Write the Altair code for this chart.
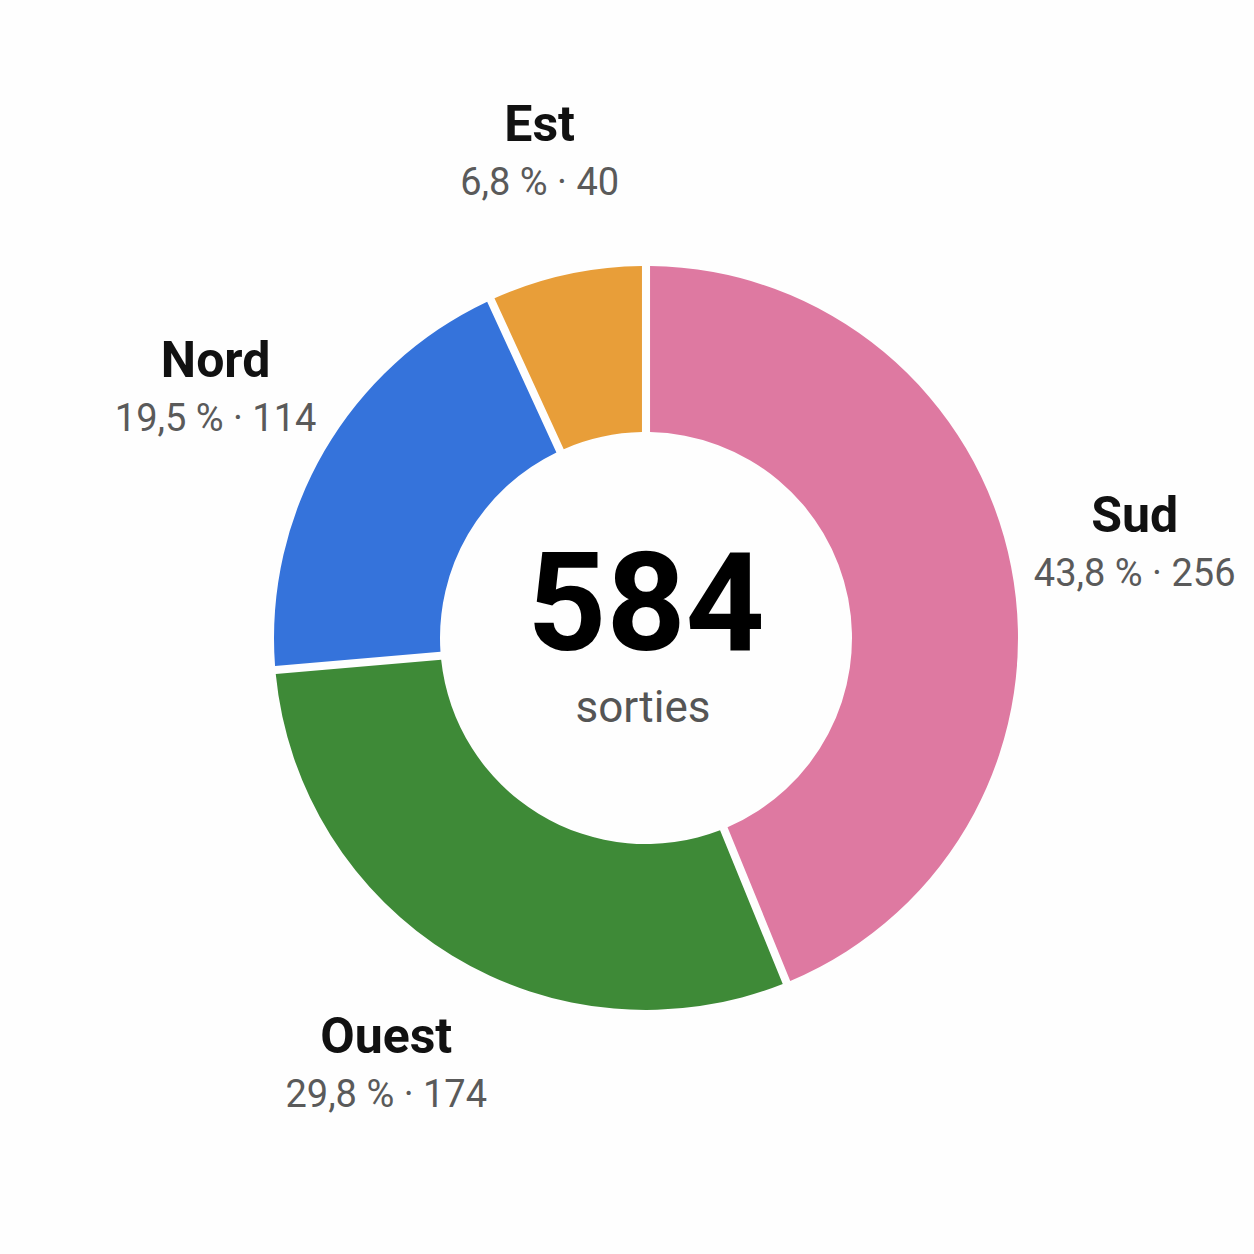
import altair as alt
import pandas as pd

regions = ["Sud", "Ouest", "Nord", "Est"]
counts = [256, 174, 114, 40]
colors = ["#DE79A1", "#3E8A37", "#3573DB", "#E89E39"]
center_label = "sorties"

total = sum(counts)
df = pd.DataFrame({
    "region": regions,
    "count": counts,
    "order": list(range(len(regions))),
    "detail": [f"{c / total * 100:.1f}".replace(".", ",") + f" % · {c}" for c in counts],
})
center_df = pd.DataFrame({"big": [str(total)], "small": [center_label]})

W, H = 1216, 1232
FONT = "Roboto"

base = alt.Chart(df).encode(
    theta=alt.Theta("count:Q", stack=True),
    order=alt.Order("order:Q", sort="ascending"),
)

arcs = base.mark_arc(innerRadius=206, outerRadius=372, padAngle=0.019).encode(
    color=alt.Color("region:N", scale=alt.Scale(domain=regions, range=colors), legend=None)
)

names = base.mark_text(radius=498, dy=-10, font=FONT, fontSize=50, fontWeight="bold",
                       color="#111111", baseline="alphabetic", align="center").encode(
    text="region:N"
)
details = base.mark_text(radius=498, dy=44, font=FONT, fontSize=38,
                         color="#5a5a5a", baseline="alphabetic", align="center").encode(
    text="detail:N"
)

big = alt.Chart(center_df).mark_text(font=FONT, fontSize=138, fontWeight="bold", color="#000000",
                                     baseline="alphabetic", align="center").encode(
    x=alt.value(W / 2), y=alt.value(H / 2 + 12), text="big:N"
)
small = alt.Chart(center_df).mark_text(font=FONT, fontSize=44, color="#555555",
                                       baseline="alphabetic", align="center").encode(
    x=alt.value(W / 2 - 3), y=alt.value(H / 2 + 84), text="small:N"
)

chart = alt.layer(arcs, names, details, big, small).properties(
    width=W, height=H,
    autosize="none",
    padding={"left": 38, "top": 22, "right": 0, "bottom": 0},
    background="#fefefe",
).configure_view(stroke=None)

chart.save("out.html", embed_options={"renderer": "svg", "actions": False})
